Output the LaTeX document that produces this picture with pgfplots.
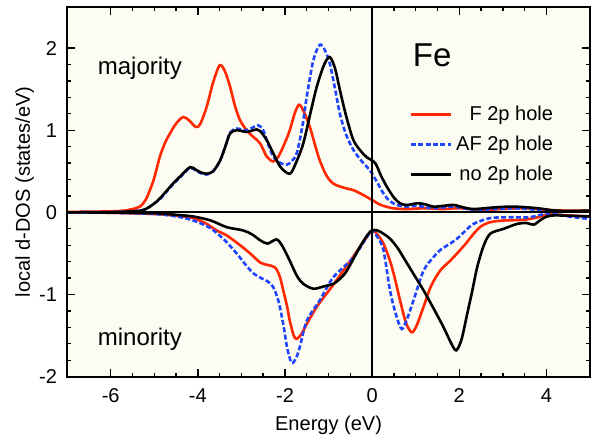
\documentclass[border=0pt]{standalone}
\usepackage{fontspec}
\setmainfont{Liberation Sans}
\usepackage{pgfplots}
\pgfplotsset{compat=1.18}
\definecolor{bgc}{RGB}{253,252,242}
\definecolor{myred}{RGB}{255,40,0}
\definecolor{myblue}{RGB}{30,70,255}
\begin{document}
\begin{tikzpicture}
\begin{axis}[
  width=261pt, height=184.5pt, scale only axis,
  xmin=-7, xmax=5, ymin=-2, ymax=2.5,
  xtick={-6,-4,-2,0,2,4}, xticklabels={-6,-4,-2,0,2,4},
  ytick={-2,-1,0,1,2}, yticklabels={-2,-1,0,1,2},
  minor x tick num=3, minor y tick num=4,
  tick align=inside, major tick length=4pt, minor tick length=2pt,
  every tick/.style={black, line width=0.7pt},
  axis line style={line width=1pt},
  axis background/.style={fill=bgc},
  tick label style={font=\fontsize{10}{12}\selectfont},
  xticklabel style={yshift=-2.5pt},
  yticklabel style={xshift=-1.5pt},
  xlabel={Energy (eV)}, ylabel={local d-DOS (states/eV)},
  label style={font=\fontsize{10}{12}\selectfont},
  xlabel style={at={(axis description cs:0.5,-0.133)}, anchor=center},
  ylabel style={at={(axis description cs:-0.081,0.5)}, anchor=center},
  legend style={at={(axis description cs:0.654,0.745)}, anchor=north west, draw=none, fill=none,
    font=\fontsize{10}{12}\selectfont, row sep=2.3pt, inner sep=0pt},
  legend cell align=right,
  legend image code/.code={\draw[#1] (0pt,0pt) -- (20pt,0pt);},
  clip=true,
]
% majority F 2p hole
\addplot[myred, line width=1.3pt, smooth] coordinates {
(-7,0.005) (-6.5,0.008) (-6,0.012) (-5.7,0.02) (-5.5,0.04) (-5.33,0.07) (-5.2,0.15) (-5.1,0.27) (-5,0.42) (-4.87,0.68) (-4.75,0.85) (-4.64,0.96) (-4.5,1.08) (-4.34,1.16) (-4.2,1.12) (-4.05,1.04) (-3.95,1.07) (-3.8,1.28) (-3.65,1.58) (-3.5,1.79) (-3.38,1.72) (-3.26,1.53) (-3.15,1.3) (-3.03,1.12) (-2.88,1.0) (-2.73,0.92) (-2.57,0.84) (-2.42,0.68) (-2.27,0.62) (-2.15,0.68) (-2.0,0.85) (-1.89,1.0) (-1.78,1.2) (-1.68,1.31) (-1.58,1.24) (-1.43,1.04) (-1.3,0.8) (-1.2,0.63) (-1.05,0.45) (-0.89,0.35) (-0.65,0.3) (-0.43,0.27) (-0.2,0.21) (0,0.15) (0.2,0.09) (0.48,0.05) (0.8,0.04) (1.2,0.05) (1.6,0.04) (2.0,0.05) (2.5,0.03) (3.0,0.04) (3.5,0.05) (4.0,0.03) (4.5,0.02) (5,0.02)};
\addlegendentry{F 2p hole}
% majority AF 2p hole
\addplot[myblue, line width=1.3pt, smooth, dash pattern=on 2.5pt off 1.2pt] coordinates {
(-7,0) (-6,0.003) (-5.6,0.01) (-5.33,0.02) (-5.2,0.04) (-5.1,0.07) (-4.97,0.12) (-4.87,0.16) (-4.72,0.25) (-4.57,0.34) (-4.4,0.43) (-4.18,0.54) (-4.05,0.51) (-3.95,0.48) (-3.8,0.46) (-3.65,0.5) (-3.49,0.63) (-3.37,0.8) (-3.26,0.97) (-3.11,1.02) (-2.88,1.0) (-2.62,1.06) (-2.5,1.0) (-2.4,0.85) (-2.27,0.68) (-2.1,0.6) (-1.96,0.58) (-1.85,0.62) (-1.73,0.72) (-1.6,1.05) (-1.5,1.41) (-1.35,1.85) (-1.2,2.04) (-1.08,1.97) (-0.97,1.81) (-0.85,1.5) (-0.74,1.2) (-0.6,0.95) (-0.43,0.76) (-0.25,0.63) (-0.05,0.51) (0.1,0.38) (0.26,0.23) (0.4,0.14) (0.57,0.09) (0.8,0.07) (1.03,0.08) (1.41,0.05) (1.87,0.07) (2.33,0.03) (2.8,0.04) (3.25,0.05) (3.8,0.03) (4.3,0.01) (5,0.01)};
\addlegendentry{AF 2p hole}
% majority no 2p hole
\addplot[black, line width=1.3pt, smooth] coordinates {
(-7,0) (-6,0.003) (-5.6,0.01) (-5.33,0.02) (-5.2,0.04) (-5.1,0.07) (-4.97,0.12) (-4.87,0.17) (-4.72,0.26) (-4.57,0.35) (-4.4,0.44) (-4.18,0.55) (-4.05,0.52) (-3.95,0.49) (-3.8,0.47) (-3.65,0.5) (-3.49,0.63) (-3.37,0.8) (-3.26,0.96) (-3.11,1.0) (-2.88,0.98) (-2.65,1.01) (-2.57,0.99) (-2.42,0.88) (-2.27,0.72) (-2.1,0.55) (-1.89,0.47) (-1.75,0.6) (-1.58,0.84) (-1.42,1.2) (-1.27,1.53) (-1.1,1.8) (-0.97,1.89) (-0.85,1.75) (-0.74,1.49) (-0.6,1.18) (-0.43,0.88) (-0.25,0.74) (-0.12,0.67) (0.07,0.6) (0.2,0.45) (0.34,0.31) (0.5,0.18) (0.64,0.11) (0.8,0.09) (1.03,0.11) (1.2,0.1) (1.41,0.07) (1.65,0.08) (1.87,0.09) (2.1,0.06) (2.33,0.04) (2.8,0.06) (3.25,0.07) (3.8,0.05) (4.25,0.02) (5,0.02)};
\addlegendentry{no 2p hole}
% minority F
\addplot[myred, line width=1.3pt, smooth, forget plot] coordinates {
(-7,0) (-6,-0.005) (-5,-0.02) (-4.5,-0.04) (-4.11,-0.07) (-3.8,-0.14) (-3.57,-0.22) (-3.34,-0.28) (-3.03,-0.40) (-2.8,-0.5) (-2.57,-0.61) (-2.4,-0.64) (-2.23,-0.67) (-2.12,-0.78) (-2.04,-0.95) (-1.95,-1.15) (-1.89,-1.32) (-1.8,-1.5) (-1.73,-1.54) (-1.62,-1.48) (-1.5,-1.36) (-1.27,-1.15) (-0.89,-0.88) (-0.5,-0.59) (-0.2,-0.36) (0,-0.22) (0.12,-0.27) (0.26,-0.38) (0.41,-0.59) (0.52,-0.8) (0.64,-1.07) (0.78,-1.35) (0.91,-1.46) (1.02,-1.38) (1.18,-1.15) (1.35,-0.9) (1.56,-0.71) (1.79,-0.59) (1.95,-0.5) (2.15,-0.38) (2.33,-0.26) (2.5,-0.17) (2.71,-0.12) (3.0,-0.1) (3.48,-0.09) (3.8,-0.06) (4.09,-0.02) (4.5,-0.04) (5,-0.05)};
% minority AF
\addplot[myblue, line width=1.3pt, smooth, dash pattern=on 2.5pt off 1.2pt, forget plot] coordinates {
(-7,0) (-6,-0.005) (-5,-0.02) (-4.49,-0.05) (-4.1,-0.1) (-3.72,-0.19) (-3.4,-0.33) (-3.11,-0.5) (-2.9,-0.64) (-2.73,-0.74) (-2.55,-0.8) (-2.4,-0.84) (-2.27,-0.91) (-2.15,-1.08) (-2.04,-1.36) (-1.95,-1.65) (-1.85,-1.83) (-1.75,-1.78) (-1.66,-1.64) (-1.5,-1.32) (-1.2,-1.07) (-0.89,-0.79) (-0.43,-0.55) (-0.12,-0.3) (0,-0.22) (0.12,-0.3) (0.26,-0.46) (0.41,-0.95) (0.55,-1.25) (0.68,-1.42) (0.8,-1.3) (0.95,-1.07) (1.18,-0.71) (1.4,-0.55) (1.56,-0.46) (1.79,-0.38) (1.95,-0.32) (2.15,-0.22) (2.33,-0.14) (2.71,-0.07) (3.2,-0.06) (3.6,-0.06) (4.09,-0.01) (4.5,-0.05) (5,-0.08)};
% minority none
\addplot[black, line width=1.3pt, smooth, forget plot] coordinates {
(-7,0) (-6,-0.003) (-5,-0.01) (-4.5,-0.03) (-4.11,-0.05) (-3.7,-0.1) (-3.34,-0.18) (-2.96,-0.22) (-2.75,-0.27) (-2.57,-0.34) (-2.4,-0.38) (-2.19,-0.33) (-2.05,-0.42) (-1.89,-0.59) (-1.72,-0.78) (-1.58,-0.87) (-1.35,-0.93) (-1.1,-0.9) (-0.89,-0.87) (-0.72,-0.8) (-0.58,-0.71) (-0.28,-0.42) (-0.1,-0.27) (0,-0.22) (0.12,-0.22) (0.26,-0.26) (0.41,-0.32) (0.58,-0.43) (0.72,-0.55) (0.95,-0.75) (1.18,-0.95) (1.41,-1.17) (1.64,-1.40) (1.82,-1.6) (1.93,-1.68) (2.05,-1.55) (2.18,-1.24) (2.3,-0.95) (2.41,-0.67) (2.55,-0.42) (2.71,-0.26) (3.02,-0.2) (3.33,-0.14) (3.55,-0.13) (3.71,-0.15) (3.9,-0.08) (4.09,-0.04) (4.5,-0.04) (5,-0.05)};
% zero lines
\addplot[black, line width=1pt, forget plot] coordinates {(-7,0) (5,0)};
\addplot[black, line width=1pt, forget plot] coordinates {(0,-2) (0,2.5)};
\node[font=\fontsize{12}{14}\selectfont, anchor=base] at (axis cs:-5.33,1.68) {majority};
\node[font=\fontsize{12}{14}\selectfont, anchor=base] at (axis cs:-5.33,-1.62) {minority};
\node[font=\fontsize{16.5}{19}\selectfont, anchor=base] at (axis cs:1.38,1.77) {Fe};
\end{axis}
\pgfresetboundingbox
\path ([xshift=-33.5pt,yshift=-32.5pt]current axis.south west) rectangle ([xshift=1pt,yshift=3.5pt]current axis.north east);
\end{tikzpicture}
\end{document}
